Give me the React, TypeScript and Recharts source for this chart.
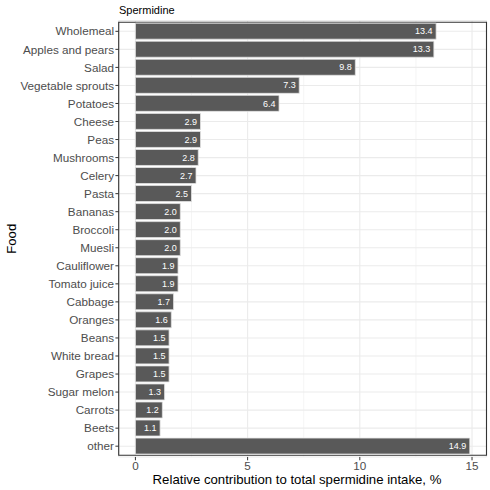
import {
    BarChart,
    Bar,
    XAxis,
    YAxis,
    CartesianGrid,
    ReferenceArea,
    LabelList,
} from "recharts";

// 食品カテゴリ（上から順）
const foods = [
    "Wholemeal",
    "Apples and pears",
    "Salad",
    "Vegetable sprouts",
    "Potatoes",
    "Cheese",
    "Peas",
    "Mushrooms",
    "Celery",
    "Pasta",
    "Bananas",
    "Broccoli",
    "Muesli",
    "Cauliflower",
    "Tomato juice",
    "Cabbage",
    "Oranges",
    "Beans",
    "White bread",
    "Grapes",
    "Sugar melon",
    "Carrots",
    "Beets",
    "other",
];

// 寄与率 %
const shares = [
    13.4, 13.3, 9.8, 7.3, 6.4, 2.9, 2.9, 2.8, 2.7, 2.5, 2.0, 2.0, 2.0, 1.9,
    1.9, 1.7, 1.6, 1.5, 1.5, 1.5, 1.3, 1.2, 1.1, 14.9,
];

const xTicks = [0, 5, 10, 15];
const xMinor = [2.5, 7.5, 12.5];

const data = foods.map((f, i) => ({ food: f, share: shares[i] }));

const FONT = "'Liberation Sans', Arial, Helvetica, sans-serif";
const xMax = 14.9;
const xDomain = [-xMax * 0.05, xMax * 1.05];

function BarLabel(props: any) {
    const { x, y, width, height, value } = props;
    return (
        <text
            x={x + width - 3.5}
            y={y + height / 2}
            dy="0.35em"
            textAnchor="end"
            fill="#ffffff"
            fontSize={9}
            fontFamily={FONT}
        >
            {Number(value).toFixed(1)}
        </text>
    );
}

export default function App() {
    return (
        <div style={{ position: "absolute", left: 0, top: 0, width: 490, height: 490, background: "#fff", fontFamily: FONT }}>
            <BarChart
                width={490}
                height={490}
                data={data}
                layout="vertical"
                margin={{ top: 20.5, right: 3.5, bottom: 0, left: 0 }}
                barCategoryGap="5%"
            >
                {/* 副目盛り用の非表示軸 */}
                <XAxis
                    xAxisId="minor"
                    type="number"
                    domain={xDomain}
                    allowDataOverflow
                    ticks={xMinor}
                    hide
                />
                <CartesianGrid
                    xAxisId="minor"
                    horizontal={false}
                    stroke="#EBEBEB"
                    strokeWidth={0.55}
                />
                <CartesianGrid stroke="#EBEBEB" strokeWidth={1.1} />
                <XAxis
                    type="number"
                    domain={xDomain}
                    allowDataOverflow
                    ticks={xTicks}
                    height={33}
                    axisLine={false}
                    tickSize={3.3}
                    tickMargin={1}
                    tickLine={{ stroke: "#333333" }}
                    tick={{ fill: "#4D4D4D", fontSize: 11.7, fontFamily: FONT }}
                />
                <YAxis
                    type="category"
                    dataKey="food"
                    width={118.7}
                    axisLine={false}
                    padding={{ top: 1.8, bottom: 1.8 }}
                    tickSize={3.3}
                    tickMargin={1.4}
                    tickLine={{ stroke: "#333333" }}
                    tick={{ fill: "#4D4D4D", fontSize: 11.7, fontFamily: FONT }}
                    interval={0}
                />
                <Bar
                    dataKey="share"
                    fill="#595959"
                    stroke="#e3e3e3"
                    strokeWidth={0.8}
                    isAnimationActive={false}
                >
                    <LabelList dataKey="share" content={BarLabel} />
                </Bar>
                <ReferenceArea
                    x1={xDomain[0]}
                    x2={xDomain[1]}
                    fill="none"
                    stroke="#333333"
                    strokeWidth={1.1}
                    ifOverflow="visible"
                />
                <text x={119} y={14} fontSize={11} fontFamily={FONT} fill="#000">
                    Spermidine
                </text>
                <text
                    x={297}
                    y={484}
                    textAnchor="middle"
                    fontSize={13.2}
                    fontFamily={FONT}
                    fill="#000"
                >
                    Relative contribution to total spermidine intake, %
                </text>
                <text
                    x={16.5}
                    y={238.8}
                    textAnchor="middle"
                    transform="rotate(-90 16.5 238.8)"
                    fontSize={13.2}
                    fontFamily={FONT}
                    fill="#000"
                >
                    Food
                </text>
            </BarChart>
        </div>
    );
}
